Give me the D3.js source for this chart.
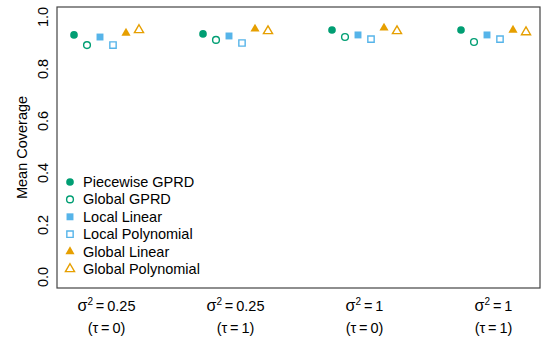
<!DOCTYPE html>
<meta charset="utf-8">
<style>
body { margin: 0; background: #fff; }
text { font-family: "Liberation Sans", Arial, sans-serif; font-size: 14.5px; fill: #000; }
</style>
<svg width="541" height="341"></svg>
<script src="https://d3js.org/d3.v7.min.js"></script>
<script>

var methods = ["Piecewise GPRD", "Global GPRD", "Local Linear", "Local Polynomial", "Global Linear", "Global Polynomial"];
var settings = [["0.25", "0"], ["0.25", "1"], ["1", "0"], ["1", "1"]];
// one row per setting, one value per method
var coverage = [
  [0.931, 0.892, 0.923, 0.892, 0.938, 0.950],
  [0.935, 0.912, 0.927, 0.900, 0.954, 0.946],
  [0.950, 0.923, 0.931, 0.915, 0.958, 0.946],
  [0.950, 0.904, 0.931, 0.915, 0.950, 0.942]
];
var yTicks = [0, 0.2, 0.4, 0.6, 0.8, 1.0];

var colors = ["#009E73", "#009E73", "#56B4E9", "#56B4E9", "#E69F00", "#E69F00"];
var shapes = [d3.symbolCircle, d3.symbolCircle, d3.symbolSquare, d3.symbolSquare, d3.symbolTriangle, d3.symbolTriangle];
var sizes = [46, 36, 48, 40, 36, 36];
var filled = [true, false, true, false, true, false];

var svg = d3.select("svg");
var boxL = 57, boxR = 540, boxT = 7, boxB = 288;

var y = d3.scaleLinear().domain([0, 1]).range([277, 17]);
var x = d3.scaleBand().domain(d3.range(settings.length)).range([42, 558]);
var off = d3.scaleLinear().domain([0, 5]).range([-32.5, 32.5]);

svg.append("rect")
  .attr("x", boxL).attr("y", boxT)
  .attr("width", boxR - boxL).attr("height", boxB - boxT)
  .attr("fill", "none").attr("stroke", "#444").attr("stroke-width", 1.2);

// y tick labels (rotated, no tick marks)
svg.selectAll(".ytick").data(yTicks).enter().append("text")
  .attr("transform", function(d) { return "translate(48," + y(d) + ") rotate(-90)"; })
  .attr("text-anchor", "middle")
  .text(function(d) { return d.toFixed(1); });

svg.append("text")
  .attr("transform", "translate(27," + ((boxT + boxB) / 2) + ") rotate(-90)")
  .attr("text-anchor", "middle")
  .text("Mean Coverage");

function mark(sel, i) {
  sel.attr("d", d3.symbol().type(shapes[i]).size(sizes[i]))
    .attr("fill", filled[i] ? colors[i] : "#fff")
    .attr("stroke", colors[i])
    .attr("stroke-width", filled[i] ? 0 : 1.4);
}

coverage.forEach(function(row, g) {
  var cx = x(g) + x.bandwidth() / 2;
  row.forEach(function(v, i) {
    svg.append("path")
      .attr("transform", "translate(" + (cx + off(i)) + "," + y(v) + ")")
      .call(mark, i);
  });

  var t1 = svg.append("text").attr("x", cx).attr("y", 311).attr("text-anchor", "middle");
  t1.append("tspan").attr("font-size", "16px").text("σ");
  t1.append("tspan").attr("font-size", "10px").attr("dy", -6).text("2");
  t1.append("tspan").attr("dy", 6).text("\u2009=\u2009" + settings[g][0]);

  svg.append("text").attr("x", cx).attr("y", 333).attr("text-anchor", "middle")
    .text("(τ\u2009=\u2009" + settings[g][1] + ")");
});

// legend
var leg = svg.append("g").attr("transform", "translate(70,182)");
methods.forEach(function(m, i) {
  leg.append("path")
    .attr("transform", "translate(0," + (i * 17.4) + ")")
    .call(mark, i);
  leg.append("text")
    .attr("x", 13).attr("y", i * 17.4 + 5)
    .text(m);
});

</script>
